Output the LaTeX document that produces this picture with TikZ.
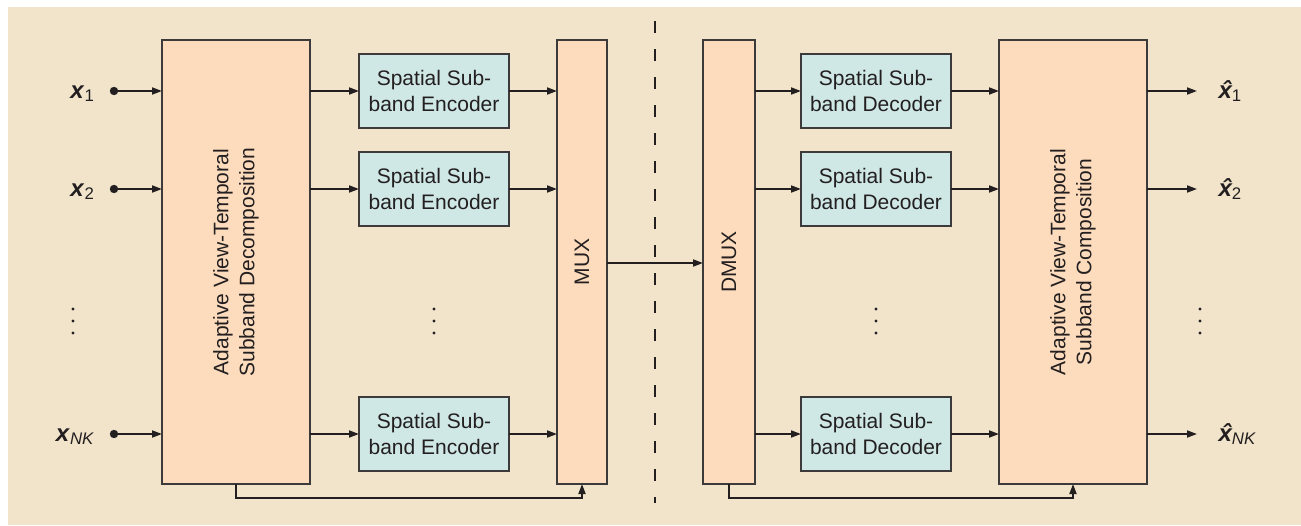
\documentclass[tikz,border=0pt]{standalone}
\usepackage{fontspec}
\setmainfont{Liberation Sans}
\usetikzlibrary{arrows.meta}
\definecolor{bgc}{HTML}{F1E4CB}
\definecolor{peach}{HTML}{FDDCBD}
\definecolor{aqua}{HTML}{CFE8E5}
\definecolor{ink}{HTML}{231F20}
\definecolor{rim}{HTML}{3C3A3A}
% bold italic x with a circumflex set over it
\newcommand{\xhat}{\textbf{\textit{\ooalign{x\cr\hidewidth\kern2.5pt ˆ\hidewidth\cr}}}}
\begin{document}
\begin{tikzpicture}[x=1pt,y=-1pt,
  txt/.style={text=ink, font=\fontsize{21}{26}\selectfont},
  tall/.style={draw=rim, line width=1.4pt, fill=peach, inner sep=0pt, outer sep=0pt,
    minimum width=#1, minimum height=444pt},
  coder/.style={draw=rim, line width=1.4pt, fill=aqua, inner sep=0pt, outer sep=0pt,
    minimum width=150pt, minimum height=74pt, align=center, txt},
  vtext/.style={rotate=90, align=center, txt},
  arr/.style={draw=ink, line width=1.8pt, -{Triangle[length=10pt,width=7pt]}},
  sig/.style={anchor=base east, text=ink, font=\fontsize{24}{28}\selectfont},
  sigout/.style={anchor=base west, text=ink, font=\fontsize{24}{28}\selectfont},
  vdots/.style={fill=ink},
]
\useasboundingbox (0,0) rectangle (1301,525);
\fill[white] (0,0) rectangle (1301,525);
\fill[bgc] (8,7) rectangle (1301,525);

% encoder side
\node[tall=148pt] (L) at (236,262) {};
\node[vtext] (Ltext) at (L) {Adaptive View-Temporal\\Subband Decomposition};
\node[coder] (e1) at (434,91)  {Spatial Sub-\\band Encoder};
\node[coder] (e2) at (434,189) {Spatial Sub-\\band Encoder};
\node[coder] (e3) at (434,434) {Spatial Sub-\\band Encoder};
\node[tall=50pt] (M) at (582,262) {};
\node[vtext] (Mtext) at (M) {MUX};

% decoder side
\node[tall=52pt] (D) at (729,262) {};
\node[vtext] (Dtext) at (D) {DMUX};
\node[coder] (d1) at (876,91)  {Spatial Sub-\\band Decoder};
\node[coder] (d2) at (876,189) {Spatial Sub-\\band Decoder};
\node[coder] (d3) at (876,434) {Spatial Sub-\\band Decoder};
\node[tall=148pt] (R) at (1073,262) {};
\node[vtext] (Rtext) at (R) {Adaptive View-Temporal\\Subband Composition};

% inputs
\coordinate (i1) at (114,91);
\coordinate (i2) at (114,189);
\coordinate (i3) at (114,434);
\foreach \k in {1,2,3} {
  \fill[ink] (i\k) circle (4.2pt);
  \draw[arr] (i\k) -- (i\k -| L.west);
}
\node[sig] (x1) at (98,98)  {\textbf{\textit{x}}\textsubscript{1}};
\node[sig] (x2) at (98,196) {\textbf{\textit{x}}\textsubscript{2}};
\node[sig] (x3) at (98,441) {\textbf{\textit{x}}\textsubscript{\textit{NK}}};

% outputs
\foreach \k in {1,2,3} {
  \coordinate (o\k) at (1197,0 |- d\k);
  \draw[arr] (R.east |- d\k) -- (o\k);
}
\node[sigout] (y1) at (1215,98)  {\xhat\textsubscript{1}};
\node[sigout] (y2) at (1215,196) {\xhat\textsubscript{2}};
\node[sigout] (y3) at (1215,441) {\xhat\textsubscript{\textit{NK}}};

% subband paths
\foreach \k in {1,2,3} {
  \draw[arr] (L.east |- e\k.west) -- (e\k.west);
  \draw[arr] (e\k.east) -- (e\k.east -| M.west);
  \draw[arr] (D.east |- d\k.west) -- (d\k.west);
  \draw[arr] (d\k.east) -- (d\k.east -| R.west);
}

% side information
\draw[arr] (L.south) -- ++(0,14) -| (M.south);
\draw[arr] (D.south) -- ++(0,14) -| (R.south);

% channel
\draw[arr] (M.east |- 0,263) -- (D.west |- 0,263);
\coordinate (ctop) at (655,21);
\coordinate (cbot) at (655,503);
\draw[draw=ink, line width=2.4pt, dash pattern=on 12pt off 16pt] (ctop) -- (cbot);

% vertical ellipses
\foreach \xx in {73,434,876,1200} {
  \foreach \yy in {309,321,333} {
    \fill[vdots] (\xx,\yy) circle (1.6pt);
  }
}
\end{tikzpicture}
\end{document}
